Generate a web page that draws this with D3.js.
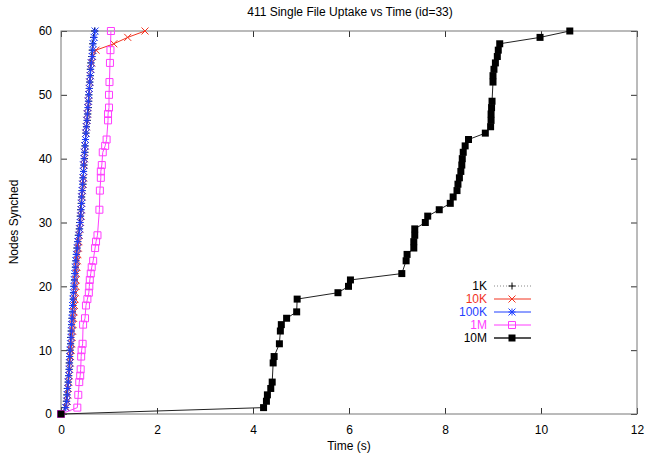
<!DOCTYPE html>
<html><head><meta charset="utf-8">
<script src="https://cdn.jsdelivr.net/npm/d3@7"></script>
<style>body{margin:0;background:#fff}svg{display:block}text{font-family:"Liberation Sans",Arial,sans-serif}</style>
</head><body><svg id="c" width="646" height="455"></svg>
<script>
const title = "411 Single File Uptake vs Time (id=33)";
const xLabel = "Time (s)";
const yLabel = "Nodes Synched";
const xTicks = [0,2,4,6,8,10,12];
const yTicks = [0,10,20,30,40,50,60];

const nodesFast = [0,1,2,3,4,5,6,7,8,9,10,11,12,13,14,15,16,17,18,19,20,21,22,23,24,25,26,27,28,29,30,31,32,33,34,35,36,37,38,39,40,41,42,43,44,45,46,47,48,49,50,51,52,53,54,55,56,57,58,59,60];
const times1K = [0,0.08,0.11,0.12,0.13,0.15,0.16,0.17,0.17,0.18,
 0.19,0.20,0.20,0.21,0.22,0.23,0.24,0.25,0.26,0.26,
 0.27,0.28,0.29,0.30,0.31,0.32,0.33,0.35,0.36,0.38,
 0.39,0.40,0.41,0.42,0.43,0.44,0.46,0.46,0.47,0.48,
 0.49,0.50,0.50,0.51,0.52,0.53,0.55,0.56,0.57,0.58,
 0.58,0.59,0.60,0.61,0.61,0.62,0.64,0.65,0.66,0.68,
 0.70];
const times10K = [0,0.11,0.13,0.14,0.15,0.16,0.17,0.18,0.19,0.20,
 0.21,0.22,0.23,0.24,0.25,0.26,0.27,0.28,0.29,0.30,
 0.31,0.31,0.32,0.33,0.34,0.35,0.36,0.37,0.38,0.39,
 0.41,0.42,0.42,0.43,0.44,0.45,0.46,0.47,0.47,0.48,
 0.49,0.49,0.50,0.51,0.52,0.53,0.54,0.55,0.56,0.57,
 0.58,0.59,0.60,0.61,0.62,0.64,0.66,0.73,1.10,1.39,
 1.75];
const times100K = [0,0.10,0.12,0.13,0.14,0.15,0.16,0.17,0.18,0.18,
 0.19,0.20,0.21,0.22,0.22,0.23,0.24,0.24,0.25,0.26,
 0.27,0.28,0.29,0.30,0.31,0.32,0.34,0.35,0.37,0.39,
 0.40,0.41,0.42,0.43,0.43,0.44,0.45,0.46,0.47,0.47,
 0.48,0.49,0.50,0.51,0.52,0.53,0.54,0.55,0.56,0.57,
 0.58,0.59,0.60,0.61,0.62,0.63,0.65,0.66,0.67,0.69,
 0.71];
const nodes1M = [0,1,3,5,6,7,9,10,11,14,15,17,18,19,20,21,22,23,24,26,27,28,32,35,37,38,39,41,42,43,46,47,48,50,52,55,57,60];
const times1M = [0,0.34,0.36,0.38,0.40,0.41,0.42,0.43,0.45,0.46,0.50,0.52,0.55,0.58,0.59,0.60,0.62,0.64,0.67,0.71,0.73,0.76,0.80,0.81,0.83,0.83,0.85,0.87,0.92,0.95,0.98,0.98,1.00,1.00,1.01,1.02,1.03,1.04];
const nodes10M = [0,1,2,3,4,5,8,9,11,13,14,15,16,18,19,20,21,22,24,25,26,27,28,29,30,31,32,33,34,35,36,37,38,39,40,41,42,43,44,45,46,47,48,49,52,53,54,55,56,57,58,59,60];
const times10M = [0,4.22,4.28,4.30,4.37,4.40,4.42,4.44,4.55,4.57,4.59,4.70,4.91,4.92,5.77,5.99,6.03,7.10,7.19,7.21,7.35,7.35,7.37,7.37,7.59,7.64,7.88,8.11,8.17,8.25,8.27,8.30,8.33,8.35,8.36,8.38,8.42,8.49,8.84,8.95,8.96,8.96,8.97,8.98,9.00,9.00,9.02,9.05,9.09,9.11,9.14,9.98,10.60];

const seriesNames = ["1K","10K","100K","1M","10M"];

const series = [
  {name:"1K", nodes:nodesFast, times:times1K, color:"#000000", lineColor:"#000", dash:"1,2", marker:"plus", legendLine:"#888"},
  {name:"10K", nodes:nodesFast, times:times10K, color:"#f2321f", lineColor:"#f2321f", dash:null, marker:"x"},
  {name:"100K", nodes:nodesFast, times:times100K, color:"#1f3fff", lineColor:"#1f3fff", dash:null, marker:"star"},
  {name:"1M", nodes:nodes1M, times:times1M, color:"#ff3dff", lineColor:"#ff3dff", dash:null, marker:"osq"},
  {name:"10M", nodes:nodes10M, times:times10M, color:"#000000", lineColor:"#222", dash:null, marker:"fsq", legendLine:"#555", legendWidth:2}
];

const svg = d3.select("#c");
const L=61, R=637, T=31, B=414;
const x = d3.scaleLinear().domain([0,12]).range([L,R]);
const y = d3.scaleLinear().domain([0,60]).range([B,T]);

svg.append("text").attr("x",350).attr("y",16).attr("text-anchor","middle").attr("font-size",12).text(title);

const gx = svg.append("g").attr("transform",`translate(0,${B})`).call(d3.axisBottom(x).tickValues(xTicks).tickSizeInner(-6).tickSizeOuter(0).tickPadding(11));
const gxt = svg.append("g").attr("transform",`translate(0,${T})`).call(d3.axisTop(x).tickValues(xTicks).tickSizeInner(-6).tickSizeOuter(0).tickFormat(""));
const gy = svg.append("g").attr("transform",`translate(${L},0)`).call(d3.axisLeft(y).tickValues(yTicks).tickSizeInner(-6).tickSizeOuter(0).tickPadding(9));
const gyr = svg.append("g").attr("transform",`translate(${R},0)`).call(d3.axisRight(y).tickValues(yTicks).tickSizeInner(-6).tickSizeOuter(0).tickFormat(""));
[gx,gxt,gy,gyr].forEach(g=>{
  g.select(".domain").remove();
  g.selectAll(".tick line").attr("stroke","#333");
  g.selectAll("text").attr("font-size",12).attr("font-family","Liberation Sans, Arial, sans-serif").attr("fill","#000");
});
svg.append("rect").attr("x",L).attr("y",T).attr("width",R-L).attr("height",B-T).attr("fill","none").attr("stroke","#777").attr("stroke-width",1);

svg.append("text").attr("x",349).attr("y",450).attr("text-anchor","middle").attr("font-size",12).text(xLabel);
svg.append("text").attr("transform","translate(18,222) rotate(-90)").attr("text-anchor","middle").attr("font-size",12).text(yLabel);

function markerPath(type){
  const s=3.5;
  switch(type){
    case "plus": return `M${-s},0H${s}M0,${-s}V${s}`;
    case "x": return `M${-s},${-s}L${s},${s}M${-s},${s}L${s},${-s}`;
    case "star": return `M${-s},0H${s}M0,${-s}V${s}M${-s},${-s}L${s},${s}M${-s},${s}L${s},${-s}`;
    case "osq": return `M${-s},${-s}H${s}V${s}H${-s}Z`;
    case "fsq": return `M${-s},${-s}H${s}V${s}H${-s}Z`;
  }
}
function drawMarker(g, type, color, px, py){
  const p = g.append("path").attr("d",markerPath(type)).attr("transform",`translate(${px},${py})`);
  if(type==="fsq") p.attr("fill",color).attr("stroke","none");
  else p.attr("fill","none").attr("stroke",color).attr("stroke-width",1);
}

const line = d3.line().x(d=>x(d[0])).y(d=>y(d[1]));
const plot = svg.append("g");
series.forEach(s=>{
  const pts = s.times.map((t,i)=>[t,s.nodes[i]]);
  const p = plot.append("path").datum(pts).attr("d",line).attr("fill","none").attr("stroke",s.lineColor).attr("stroke-width",1);
  if(s.dash) p.attr("stroke-dasharray",s.dash);
  const mg = plot.append("g");
  pts.forEach(d=>drawMarker(mg,s.marker,s.color,x(d[0]),y(d[1])));
});

const legY = [286,299,312,325,338];
series.forEach((s,i)=>{
  const g = svg.append("g");
  g.append("text").attr("x",487).attr("y",legY[i]+4).attr("text-anchor","end").attr("font-size",12).attr("fill",s.name==="1K"||s.name==="10M"?"#000":s.color).text(seriesNames[i]);
  const l = g.append("line").attr("x1",494).attr("x2",531).attr("y1",legY[i]).attr("y2",legY[i]).attr("stroke",s.legendLine||s.lineColor).attr("stroke-width",s.legendWidth||1);
  if(s.dash) l.attr("stroke-dasharray",s.dash);
  drawMarker(g,s.marker,s.color,512,legY[i]);
});
</script></body></html>
